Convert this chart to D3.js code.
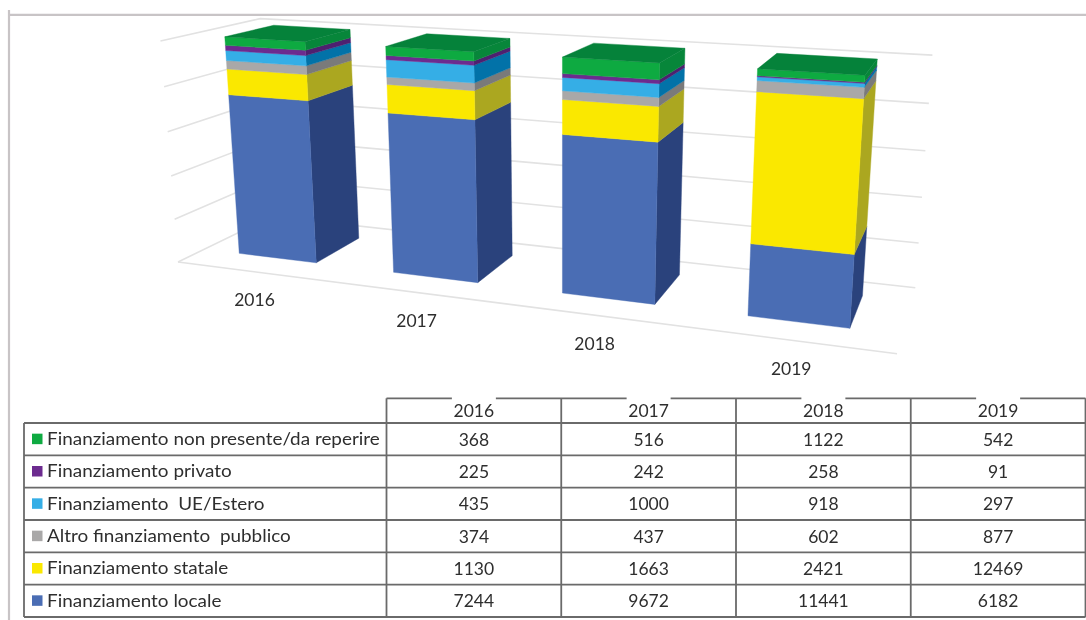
<!DOCTYPE html>
<html>
<head>
<meta charset="utf-8">
<script src="https://cdn.jsdelivr.net/npm/d3@7"></script>
<style>
html,body{margin:0;padding:0;background:#fff;overflow:hidden}
svg{display:block;filter:blur(0.45px)}
text{font-family:Lato,"Open Sans",sans-serif;fill:#2e2e2e}
</style>
</head>
<body>
<svg id="chart" width="1086" height="620"></svg>
<script>
const years = ["2016","2017","2018","2019"];
const seriesNames = ["Finanziamento locale","Finanziamento statale","Altro finanziamento  pubblico","Finanziamento  UE/Estero","Finanziamento privato","Finanziamento non presente/da reperire"];
const locale = [7244,9672,11441,6182];
const statale = [1130,1663,2421,12469];
const altro = [374,437,602,877];
const estero = [435,1000,918,297];
const privato = [225,242,258,91];
const nonPresente = [368,516,1122,542];
const seriesValues = [locale,statale,altro,estero,privato,nonPresente];
const frontColors = ["#4a6db4","#fae800","#a9a8a8","#35aee6","#6c2b8f","#0eaa41"];
const sideColors = ["#2a427c","#aba720","#7a7a7a","#0272a8","#4e2070","#07863a"];
const topColor = "#05823a";
const yTicks = [0,0.2,0.4,0.6,0.8,1];

// 3D projective camera: (X,Y,Z) in unit box to screen
const P = {
  x:[178,561.6,-24.55,127.3],
  y:[262,29.66,-222.8,-19.1],
  w:[1,-0.1755,-0.04368,0.1226]
};
const dot=(r,X,Y,Z)=>r[0]+r[1]*X+r[2]*Y+r[3]*Z;
const proj=(X,Y,Z)=>{const w=dot(P.w,X,Y,Z);return [dot(P.x,X,Y,Z)/w,dot(P.y,X,Y,Z)/w];};

const xBand = d3.scaleBand().domain(years).range([-0.002,0.998]).paddingInner(0.49).paddingOuter(0.245);
const zBand = d3.scaleBand().domain(["s"]).range([0.015,1.015]).paddingInner(0.49).paddingOuter(0.245);
const yVal = d3.scaleLinear().domain([0,1]).range([0,1]);

const rows = years.map((y,i)=>{const o={year:y};seriesNames.forEach((n,k)=>o[n]=seriesValues[k][i]);return o;});
const stacked = d3.stack().keys(seriesNames).offset(d3.stackOffsetExpand)(rows);

const svg = d3.select("#chart");
svg.append("rect").attr("width",1086).attr("height",620).attr("fill","#fff");

// outer frame of the pasted picture
const frame = svg.append("g").attr("stroke","#c8c4c6").attr("stroke-width",2.2);
frame.append("line").attr("x1",8.5).attr("x2",1086).attr("y1",14.8).attr("y2",14.8);
frame.append("line").attr("x1",9).attr("x2",9).attr("y1",10).attr("y2",620);

// gridlines
const line = d3.line();
const grid = svg.append("g").attr("fill","none").attr("stroke","#e2e2e2").attr("stroke-width",1.6);
yTicks.forEach(t=>{
  grid.append("path").attr("d",line([proj(0,yVal(t),0),proj(0,yVal(t),1),proj(1,yVal(t),1)]));
});
grid.append("path").attr("d",line([proj(0,0,0),proj(1,0,0)]));

// bars
const zf = zBand("s"), zb = zf+zBand.bandwidth();
const quad = pts=>line(pts)+"Z";
const bars = svg.append("g");
stacked.forEach((s,k)=>{
  s.forEach((d,i)=>{
    const x0=xBand(years[i]), x1=x0+xBand.bandwidth();
    const y0=yVal(d[0]), y1=yVal(d[1]);
    bars.append("path").attr("d",quad([proj(x1,y0,zf),proj(x1,y0,zb),proj(x1,y1,zb),proj(x1,y1,zf)]))
      .attr("fill",sideColors[k]).attr("stroke",sideColors[k]).attr("stroke-width",0.4);
    bars.append("path").attr("d",quad([proj(x0,y0,zf),proj(x1,y0,zf),proj(x1,y1,zf),proj(x0,y1,zf)]))
      .attr("fill",frontColors[k]).attr("stroke",frontColors[k]).attr("stroke-width",0.4);
    if(k===stacked.length-1){
      bars.append("path").attr("d",quad([proj(x0,y1,zf),proj(x1,y1,zf),proj(x1,y1,zb),proj(x0,y1,zb)]))
        .attr("fill",topColor).attr("stroke",topColor).attr("stroke-width",0.4);
    }
  });
});

// category labels under the floor edge
years.forEach(y=>{
  const p=proj(xBand(y)+xBand.bandwidth()/2,0,0);
  svg.append("text").attr("x",p[0]+2).attr("y",p[1]+30.5).attr("text-anchor","middle")
    .attr("dominant-baseline","middle").attr("font-size",17.5).text(y);
});

// data table
const colEdges = [24,386.5,561,736,910.5,1085.5];
const colX = d3.scaleBand().domain(years).range([colEdges[1],colEdges[5]]);
const rowOrder = seriesNames.slice().reverse();
const rowY = d3.scaleBand().domain(rowOrder).range([423,617]);
const headerTop = 398.3;
const tbl = svg.append("g").attr("stroke","#6a6a6a").attr("stroke-width",1.8).attr("fill","none");
tbl.append("line").attr("x1",colX("2016")).attr("x2",1085.5).attr("y1",headerTop).attr("y2",headerTop);
tbl.append("line").attr("x1",24).attr("x2",24).attr("y1",423).attr("y2",617);
years.forEach(y=>{
  tbl.append("line").attr("x1",colX(y)).attr("x2",colX(y)).attr("y1",headerTop).attr("y2",617);
});
tbl.append("line").attr("x1",1085.5).attr("x2",1085.5).attr("y1",headerTop).attr("y2",617);
rowOrder.forEach(n=>{
  tbl.append("line").attr("x1",24).attr("x2",1085.5).attr("y1",rowY(n)).attr("y2",rowY(n));
});
tbl.append("line").attr("x1",24).attr("x2",1085.5).attr("y1",617).attr("y2",617);

years.forEach((y,i)=>{
  const cx=colX(y)+colX.bandwidth()/2;
  svg.append("rect").attr("x",cx-22).attr("y",headerTop-2).attr("width",44).attr("height",5).attr("fill","#fff");
  svg.append("text").attr("x",cx).attr("y",413).attr("text-anchor","middle").attr("dominant-baseline","middle")
    .attr("font-size",17.5).text(y);
  rowOrder.forEach(n=>{
    const k=seriesNames.indexOf(n);
    svg.append("text").attr("x",cx).attr("y",rowY(n)+rowY.bandwidth()/2+2).attr("text-anchor","middle")
      .attr("dominant-baseline","middle").attr("font-size",17.5).text(seriesValues[k][i]);
  });
});
rowOrder.forEach(n=>{
  const k=seriesNames.indexOf(n);
  const cy=rowY(n)+rowY.bandwidth()/2;
  svg.append("rect").attr("x",32).attr("y",cy-5.5).attr("width",10.5).attr("height",10.5).attr("fill",frontColors[k]);
  svg.append("text").attr("transform",`translate(47,${cy+1.5}) scale(1.113,1)`).attr("dominant-baseline","middle")
    .style("white-space","pre").attr("font-size",17).text(n);
});
</script>
</body>
</html>
